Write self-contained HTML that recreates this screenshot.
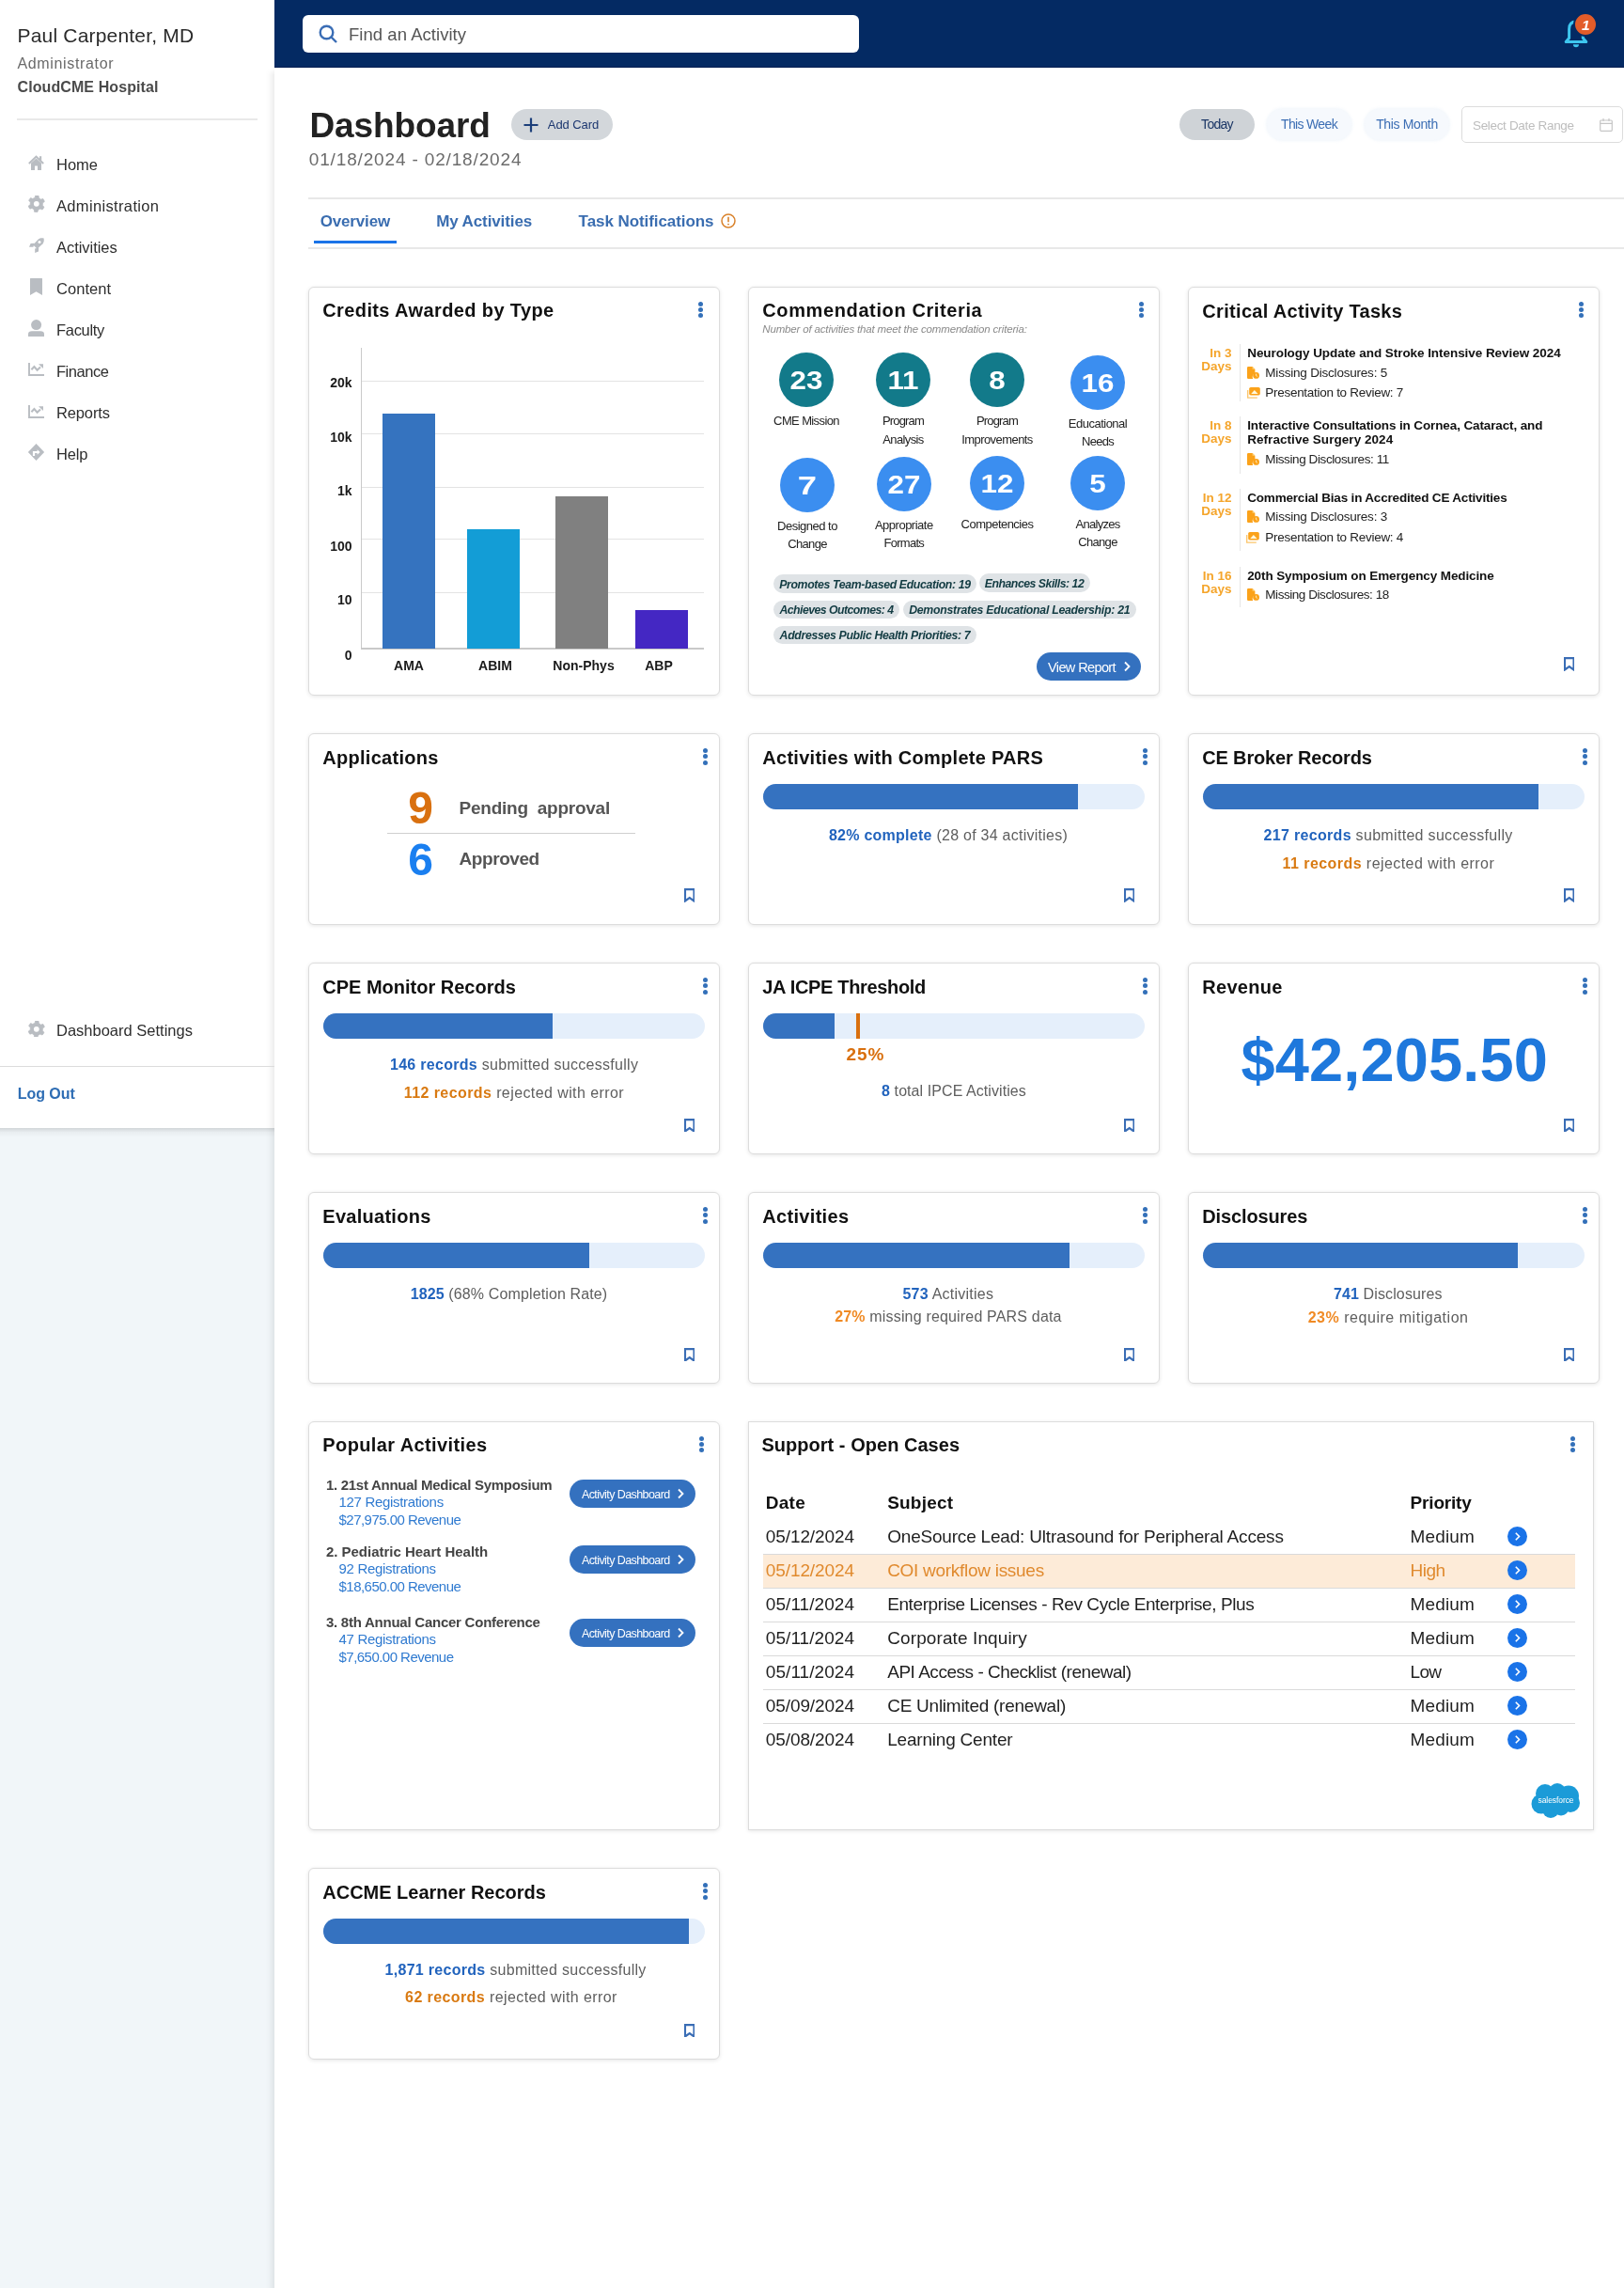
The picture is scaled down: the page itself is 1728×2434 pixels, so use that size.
<!DOCTYPE html><html><head><meta charset="utf-8"><style>
html,body{margin:0;padding:0;}
body{width:1728px;height:2434px;position:relative;overflow:hidden;background:#fff;font-family:'Liberation Sans', sans-serif;}
.t{position:absolute;line-height:1;white-space:nowrap;font-family:'Liberation Sans', sans-serif;}
svg{display:block}
</style></head><body><div style="position:absolute;left:0;top:0;width:1728px;height:2434px;will-change:transform;">
<div style="position:absolute;left:0px;top:0px;width:292px;height:2434px;background:#f1f6f9;"></div>
<div style="position:absolute;left:0px;top:0px;width:292px;height:1200px;background:#fff;"></div>
<div style="position:absolute;left:0px;top:1200px;width:292px;height:10px;background:linear-gradient(to bottom, rgba(0,0,0,0.13), rgba(0,0,0,0.035) 45%, rgba(0,0,0,0));"></div>
<div style="position:absolute;left:282px;top:72px;width:10px;height:2362px;background:linear-gradient(to right, rgba(0,0,0,0), rgba(0,0,0,0.012) 40%, rgba(0,0,0,0.07));-webkit-mask-image:linear-gradient(to bottom, transparent, #000 8px);"></div>
<div class="t" style="top:27.00px;font-size:21px;color:#2a2a2a;letter-spacing:0.184px;left:18.50px;">Paul Carpenter, MD</div>
<div class="t" style="top:60.00px;font-size:16px;color:#6a6a6a;letter-spacing:0.647px;left:18.50px;">Administrator</div>
<div class="t" style="top:85.00px;font-size:16px;color:#4a4a4a;font-weight:bold;letter-spacing:0.095px;left:18.50px;">CloudCME Hospital</div>
<div style="position:absolute;left:18px;top:126px;width:256px;height:2px;background:#e9e9e9;"></div>
<div class="t" style="top:167.00px;font-size:16.5px;color:#2e2e2e;letter-spacing:-0.018px;left:60.00px;">Home</div>
<div class="t" style="top:211.00px;font-size:16.5px;color:#2e2e2e;letter-spacing:0.344px;left:60.00px;">Administration</div>
<div class="t" style="top:255.00px;font-size:16.5px;color:#2e2e2e;letter-spacing:-0.044px;left:60.00px;">Activities</div>
<div class="t" style="top:299.00px;font-size:16.5px;color:#2e2e2e;letter-spacing:0.061px;left:60.00px;">Content</div>
<div class="t" style="top:343.00px;font-size:16.5px;color:#2e2e2e;letter-spacing:-0.302px;left:60.00px;">Faculty</div>
<div class="t" style="top:387.00px;font-size:16.5px;color:#2e2e2e;letter-spacing:-0.457px;left:60.00px;">Finance</div>
<div class="t" style="top:431.00px;font-size:16.5px;color:#2e2e2e;letter-spacing:-0.142px;left:60.00px;">Reports</div>
<div class="t" style="top:475.00px;font-size:16.5px;color:#2e2e2e;letter-spacing:-0.203px;left:60.00px;">Help</div>
<div style="position:absolute;left:292px;top:0px;width:1436px;height:72px;background:#042a63;"></div>
<div style="position:absolute;left:292px;top:71px;width:1436px;height:1px;background:#021d52;"></div>
<div style="position:absolute;left:322px;top:16px;width:592px;height:40px;background:#fff;border-radius:6px;"></div>
<svg style="position:absolute;left:339px;top:26px" width="21" height="20" viewBox="0 0 21 20"><circle cx="8.5" cy="8.5" r="6.8" fill="none" stroke="#3a6db5" stroke-width="2.4"/><line x1="13.5" y1="13.5" x2="19" y2="19" stroke="#3a6db5" stroke-width="2.4"/></svg>
<div class="t" style="top:28.00px;font-size:18.5px;color:#555;letter-spacing:0.039px;left:371.00px;">Find an Activity</div>
<div class="t" style="top:115.00px;font-size:37px;color:#222;font-weight:bold;letter-spacing:-0.091px;left:329.40px;">Dashboard</div>
<div style="position:absolute;left:544px;top:116px;width:108px;height:33px;background:#d3d7db;border-radius:17px;"></div>
<div class="t" style="top:126.00px;font-size:13px;color:#1c3770;letter-spacing:-0.075px;left:582.80px;">Add Card</div>
<div class="t" style="top:160.00px;font-size:19px;color:#6b6b6b;letter-spacing:0.845px;left:328.80px;">01/18/2024 - 02/18/2024</div>
<div style="position:absolute;left:1255px;top:116px;width:80px;height:33px;background:#cfd3d7;border-radius:17px;"></div>
<div class="t" style="top:125.00px;font-size:14px;color:#1c3766;letter-spacing:-0.720px;left:695.00px;width:1200px;text-align:center;">Today</div>
<div style="position:absolute;left:1348px;top:116px;width:90px;height:33px;background:#f6f9fd;border-radius:17px;box-shadow:0 0 3px 1px rgba(240,245,251,0.9);"></div>
<div class="t" style="top:125.00px;font-size:14px;color:#3c6eb4;letter-spacing:-0.655px;left:793.00px;width:1200px;text-align:center;">This Week</div>
<div style="position:absolute;left:1452px;top:116px;width:90px;height:33px;background:#f6f9fd;border-radius:17px;box-shadow:0 0 3px 1px rgba(240,245,251,0.9);"></div>
<div class="t" style="top:125.00px;font-size:14px;color:#3c6eb4;letter-spacing:-0.359px;left:897.00px;width:1200px;text-align:center;">This Month</div>
<div style="position:absolute;left:1555px;top:113px;width:172px;height:39px;box-sizing:border-box;border:1px solid #dcdcdc;border-radius:5px;background:#fff;"></div>
<div class="t" style="top:127.00px;font-size:13.5px;color:#bdbdbd;letter-spacing:-0.333px;left:1567.00px;">Select Date Range</div>
<div style="position:absolute;left:328px;top:210px;width:1400px;height:2px;background:#e8e8e8;"></div>
<div style="position:absolute;left:328px;top:263px;width:1400px;height:2px;background:#e8e8e8;"></div>
<div class="t" style="top:227.00px;font-size:17px;color:#3a6db0;font-weight:bold;letter-spacing:-0.164px;left:340.70px;">Overview</div>
<div style="position:absolute;left:334px;top:256px;width:88px;height:3px;background:#1a73e8;"></div>
<div class="t" style="top:227.00px;font-size:17px;color:#3a6db0;font-weight:bold;letter-spacing:-0.106px;left:464.20px;">My Activities</div>
<div class="t" style="top:227.00px;font-size:17px;color:#3a6db0;font-weight:bold;letter-spacing:-0.069px;left:615.60px;">Task Notifications</div>
<div style="position:absolute;left:328px;top:305px;width:438px;height:435px;box-sizing:border-box;border:1px solid #dcdcdc;border-radius:6px;background:#fff;box-shadow:0 1px 4px rgba(0,0,0,0.10);"></div>
<div class="t" style="top:320.00px;font-size:20px;color:#111;font-weight:bold;letter-spacing:0.382px;left:343.30px;">Credits Awarded by Type</div>
<div style="position:absolute;left:743.30px;top:320.50px;width:5px;height:5px;border-radius:50%;background:#3370b9"></div>
<div style="position:absolute;left:743.30px;top:326.70px;width:5px;height:5px;border-radius:50%;background:#3370b9"></div>
<div style="position:absolute;left:743.30px;top:332.90px;width:5px;height:5px;border-radius:50%;background:#3370b9"></div>
<div style="position:absolute;left:384px;top:370px;width:1px;height:320px;background:#c9c9c9;"></div>
<div style="position:absolute;left:385px;top:405px;width:364px;height:1px;background:#e3e3e3;"></div>
<div style="position:absolute;left:385px;top:461px;width:364px;height:1px;background:#e3e3e3;"></div>
<div style="position:absolute;left:385px;top:518px;width:364px;height:1px;background:#e3e3e3;"></div>
<div style="position:absolute;left:385px;top:573px;width:364px;height:1px;background:#e3e3e3;"></div>
<div style="position:absolute;left:385px;top:630px;width:364px;height:1px;background:#e3e3e3;"></div>
<div style="position:absolute;left:384px;top:689px;width:365px;height:1.5px;background:#c9c9c9;"></div>
<div class="t" style="top:400.00px;font-size:14px;color:#1a1a1a;font-weight:bold;left:-825.50px;width:1200px;text-align:right;">20k</div>
<div class="t" style="top:458.00px;font-size:14px;color:#1a1a1a;font-weight:bold;left:-825.50px;width:1200px;text-align:right;">10k</div>
<div class="t" style="top:515.00px;font-size:14px;color:#1a1a1a;font-weight:bold;left:-825.50px;width:1200px;text-align:right;">1k</div>
<div class="t" style="top:574.00px;font-size:14px;color:#1a1a1a;font-weight:bold;left:-825.50px;width:1200px;text-align:right;">100</div>
<div class="t" style="top:631.00px;font-size:14px;color:#1a1a1a;font-weight:bold;left:-825.50px;width:1200px;text-align:right;">10</div>
<div class="t" style="top:690.00px;font-size:14px;color:#1a1a1a;font-weight:bold;left:-825.50px;width:1200px;text-align:right;">0</div>
<div style="position:absolute;left:407px;top:440px;width:56px;height:250px;background:#3573bf;"></div>
<div style="position:absolute;left:497px;top:563px;width:56px;height:127px;background:#139dd6;"></div>
<div style="position:absolute;left:591px;top:528px;width:56px;height:162px;background:#808080;"></div>
<div style="position:absolute;left:676px;top:649px;width:56px;height:41px;background:#4427c3;"></div>
<div class="t" style="top:701.00px;font-size:14px;color:#1a1a1a;font-weight:bold;left:-165.00px;width:1200px;text-align:center;">AMA</div>
<div class="t" style="top:701.00px;font-size:14px;color:#1a1a1a;font-weight:bold;left:-73.00px;width:1200px;text-align:center;">ABIM</div>
<div class="t" style="top:701.00px;font-size:14px;color:#1a1a1a;font-weight:bold;left:21.00px;width:1200px;text-align:center;">Non-Phys</div>
<div class="t" style="top:701.00px;font-size:14px;color:#1a1a1a;font-weight:bold;left:101.00px;width:1200px;text-align:center;">ABP</div>
<div style="position:absolute;left:796px;top:305px;width:438px;height:435px;box-sizing:border-box;border:1px solid #dcdcdc;border-radius:6px;background:#fff;box-shadow:0 1px 4px rgba(0,0,0,0.10);"></div>
<div class="t" style="top:320.00px;font-size:20px;color:#111;font-weight:bold;letter-spacing:0.615px;left:811.30px;">Commendation Criteria</div>
<div style="position:absolute;left:1211.50px;top:320.50px;width:5px;height:5px;border-radius:50%;background:#3370b9"></div>
<div style="position:absolute;left:1211.50px;top:326.70px;width:5px;height:5px;border-radius:50%;background:#3370b9"></div>
<div style="position:absolute;left:1211.50px;top:332.90px;width:5px;height:5px;border-radius:50%;background:#3370b9"></div>
<div class="t" style="top:345.00px;font-size:11.5px;color:#8a8a8a;font-style:italic;letter-spacing:-0.165px;left:811.30px;">Number of activities that meet the commendation criteria:</div>
<div style="position:absolute;left:829.0px;top:374.7px;width:58px;height:58px;border-radius:50%;background:#127a8a"></div>
<div class="t" style="top:391.00px;font-size:28px;color:#fff;font-weight:bold;left:258.00px;width:1200px;text-align:center;transform:scaleX(1.12);">23</div>
<div class="t" style="top:441.00px;font-size:13px;color:#222;letter-spacing:-0.617px;left:258.00px;width:1200px;text-align:center;">CME Mission</div>
<div style="position:absolute;left:932.0px;top:374.7px;width:58px;height:58px;border-radius:50%;background:#127a8a"></div>
<div class="t" style="top:391.00px;font-size:28px;color:#fff;font-weight:bold;left:361.00px;width:1200px;text-align:center;transform:scaleX(1.12);">11</div>
<div class="t" style="top:441.00px;font-size:13px;color:#222;letter-spacing:-0.826px;left:361.00px;width:1200px;text-align:center;">Program</div>
<div class="t" style="top:461.00px;font-size:13px;color:#222;letter-spacing:-0.632px;left:361.00px;width:1200px;text-align:center;">Analysis</div>
<div style="position:absolute;left:1032.0px;top:374.7px;width:58px;height:58px;border-radius:50%;background:#127a8a"></div>
<div class="t" style="top:391.00px;font-size:28px;color:#fff;font-weight:bold;left:461.00px;width:1200px;text-align:center;transform:scaleX(1.12);">8</div>
<div class="t" style="top:441.00px;font-size:13px;color:#222;letter-spacing:-0.826px;left:461.00px;width:1200px;text-align:center;">Program</div>
<div class="t" style="top:461.00px;font-size:13px;color:#222;letter-spacing:-0.560px;left:461.00px;width:1200px;text-align:center;">Improvements</div>
<div style="position:absolute;left:1139.0px;top:378.0px;width:58px;height:58px;border-radius:50%;background:#3b8ef0"></div>
<div class="t" style="top:394.00px;font-size:28px;color:#fff;font-weight:bold;left:568.00px;width:1200px;text-align:center;transform:scaleX(1.12);">16</div>
<div class="t" style="top:444.00px;font-size:13px;color:#222;letter-spacing:-0.502px;left:568.00px;width:1200px;text-align:center;">Educational</div>
<div class="t" style="top:463.00px;font-size:13px;color:#222;letter-spacing:-0.742px;left:568.00px;width:1200px;text-align:center;">Needs</div>
<div style="position:absolute;left:830.0px;top:486.7px;width:58px;height:58px;border-radius:50%;background:#3b8ef0"></div>
<div class="t" style="top:503.00px;font-size:28px;color:#fff;font-weight:bold;left:259.00px;width:1200px;text-align:center;transform:scaleX(1.3);">7</div>
<div class="t" style="top:553.00px;font-size:13px;color:#222;letter-spacing:-0.506px;left:259.00px;width:1200px;text-align:center;">Designed to</div>
<div class="t" style="top:572.00px;font-size:13px;color:#222;letter-spacing:-0.633px;left:259.00px;width:1200px;text-align:center;">Change</div>
<div style="position:absolute;left:932.8px;top:485.8px;width:58px;height:58px;border-radius:50%;background:#3b8ef0"></div>
<div class="t" style="top:502.00px;font-size:28px;color:#fff;font-weight:bold;left:361.80px;width:1200px;text-align:center;transform:scaleX(1.12);">27</div>
<div class="t" style="top:552.00px;font-size:13px;color:#222;letter-spacing:-0.491px;left:361.80px;width:1200px;text-align:center;">Appropriate</div>
<div class="t" style="top:571.00px;font-size:13px;color:#222;letter-spacing:-0.741px;left:361.80px;width:1200px;text-align:center;">Formats</div>
<div style="position:absolute;left:1032.0px;top:484.7px;width:58px;height:58px;border-radius:50%;background:#3b8ef0"></div>
<div class="t" style="top:501.00px;font-size:28px;color:#fff;font-weight:bold;left:461.00px;width:1200px;text-align:center;transform:scaleX(1.12);">12</div>
<div class="t" style="top:551.00px;font-size:13px;color:#222;letter-spacing:-0.525px;left:461.00px;width:1200px;text-align:center;">Competencies</div>
<div style="position:absolute;left:1139.0px;top:484.7px;width:58px;height:58px;border-radius:50%;background:#3b8ef0"></div>
<div class="t" style="top:501.00px;font-size:28px;color:#fff;font-weight:bold;left:568.00px;width:1200px;text-align:center;transform:scaleX(1.12);">5</div>
<div class="t" style="top:551.00px;font-size:13px;color:#222;letter-spacing:-0.726px;left:568.00px;width:1200px;text-align:center;">Analyzes</div>
<div class="t" style="top:570.00px;font-size:13px;color:#222;letter-spacing:-0.693px;left:568.00px;width:1200px;text-align:center;">Change</div>
<div style="position:absolute;left:823px;top:611px;width:216px;height:19.5px;background:#dfe3e6;border-radius:10px;"></div>
<div class="t" style="top:616.00px;font-size:12.3px;color:#123b42;font-weight:bold;font-style:italic;letter-spacing:-0.361px;left:331.00px;width:1200px;text-align:center;">Promotes Team-based Education: 19</div>
<div style="position:absolute;left:1041.5px;top:610px;width:118px;height:19.5px;background:#dfe3e6;border-radius:10px;"></div>
<div class="t" style="top:615.00px;font-size:12.3px;color:#123b42;font-weight:bold;font-style:italic;letter-spacing:-0.493px;left:500.50px;width:1200px;text-align:center;">Enhances Skills: 12</div>
<div style="position:absolute;left:823px;top:638.5px;width:134px;height:19.5px;background:#dfe3e6;border-radius:10px;"></div>
<div class="t" style="top:643.00px;font-size:12.3px;color:#123b42;font-weight:bold;font-style:italic;letter-spacing:-0.538px;left:290.00px;width:1200px;text-align:center;">Achieves Outcomes: 4</div>
<div style="position:absolute;left:961px;top:638.5px;width:247.5px;height:19.5px;background:#dfe3e6;border-radius:10px;"></div>
<div class="t" style="top:643.00px;font-size:12.3px;color:#123b42;font-weight:bold;font-style:italic;letter-spacing:-0.260px;left:484.75px;width:1200px;text-align:center;">Demonstrates Educational Leadership: 21</div>
<div style="position:absolute;left:823px;top:665.5px;width:216px;height:19.5px;background:#dfe3e6;border-radius:10px;"></div>
<div class="t" style="top:670.00px;font-size:12.3px;color:#123b42;font-weight:bold;font-style:italic;letter-spacing:-0.338px;left:331.00px;width:1200px;text-align:center;">Addresses Public Health Priorities: 7</div>
<div style="position:absolute;left:1102.5px;top:694px;width:111.5px;height:30px;background:#3471bf;border-radius:15px;"></div>
<div class="t" style="top:703.00px;font-size:14.5px;color:#fff;letter-spacing:-0.614px;left:1115.00px;">View Report</div>
<svg style="position:absolute;left:1195px;top:703px" width="9" height="12" viewBox="0 0 9 12"><path d="M2 1.5 L6.5 6 L2 10.5" fill="none" stroke="#fff" stroke-width="1.8"/></svg>
<div style="position:absolute;left:1264px;top:305px;width:438px;height:435px;box-sizing:border-box;border:1px solid #dcdcdc;border-radius:6px;background:#fff;box-shadow:0 1px 4px rgba(0,0,0,0.10);"></div>
<div class="t" style="top:321.00px;font-size:20px;color:#111;font-weight:bold;letter-spacing:0.318px;left:1279.30px;">Critical Activity Tasks</div>
<div style="position:absolute;left:1679.50px;top:320.50px;width:5px;height:5px;border-radius:50%;background:#3370b9"></div>
<div style="position:absolute;left:1679.50px;top:326.70px;width:5px;height:5px;border-radius:50%;background:#3370b9"></div>
<div style="position:absolute;left:1679.50px;top:332.90px;width:5px;height:5px;border-radius:50%;background:#3370b9"></div>
<div class="t" style="top:369.00px;font-size:13.5px;color:#f5a52b;font-weight:bold;left:110.50px;width:1200px;text-align:right;">In 3</div>
<div class="t" style="top:383.00px;font-size:13.5px;color:#f5a52b;font-weight:bold;left:110.50px;width:1200px;text-align:right;">Days</div>
<div style="position:absolute;left:1319px;top:366px;width:1px;height:61px;background:#e6e6e6;"></div>
<div class="t" style="top:369.00px;font-size:13.5px;color:#111;font-weight:bold;letter-spacing:-0.055px;left:1327.20px;">Neurology Update and Stroke Intensive Review 2024</div>
<svg style="position:absolute;left:1327.0px;top:389.9px" width="13.5" height="13.5" viewBox="0 0 13.5 13.5"><path d="M0 1.2 Q0 0 1.2 0 H5.6 L8.4 2.8 V7 A4.2 4.2 0 0 0 6.2 13 H1.2 Q0 13 0 11.8 Z" fill="#fba21a"/><path d="M5.6 0 V2.8 H8.4 Z" fill="#fdd27a"/><circle cx="9.6" cy="9.4" r="3.4" fill="#fba21a"/><path d="M9.6 7.6 V9.6 L10.8 10.4" stroke="#fff3d0" stroke-width="0.9" fill="none"/></svg>
<div class="t" style="top:390.00px;font-size:13.5px;color:#222;letter-spacing:-0.206px;left:1346.30px;">Missing Disclosures: 5</div>
<svg style="position:absolute;left:1327.0px;top:412.1px" width="14" height="12" viewBox="0 0 14 12"><path d="M0.7 3 V11.1 H10.8" fill="none" stroke="#fcc56a" stroke-width="1.3"/><rect x="2.2" y="0" width="11.6" height="8.4" rx="1.6" fill="#fba21a"/><path d="M4.2 7 L7.8 3 L11.6 7 Z" fill="#fff8dc"/></svg>
<div class="t" style="top:411.00px;font-size:13.5px;color:#222;letter-spacing:-0.285px;left:1346.30px;">Presentation to Review: 7</div>
<div class="t" style="top:446.00px;font-size:13.5px;color:#f5a52b;font-weight:bold;left:110.50px;width:1200px;text-align:right;">In 8</div>
<div class="t" style="top:460.00px;font-size:13.5px;color:#f5a52b;font-weight:bold;left:110.50px;width:1200px;text-align:right;">Days</div>
<div style="position:absolute;left:1319px;top:443px;width:1px;height:61px;background:#e6e6e6;"></div>
<div class="t" style="top:446.00px;font-size:13.5px;color:#111;font-weight:bold;letter-spacing:-0.124px;left:1327.20px;">Interactive Consultations in Cornea, Cataract, and</div>
<div class="t" style="top:461.00px;font-size:13.5px;color:#111;font-weight:bold;letter-spacing:0.053px;left:1327.20px;">Refractive Surgery 2024</div>
<svg style="position:absolute;left:1327.0px;top:481.7px" width="13.5" height="13.5" viewBox="0 0 13.5 13.5"><path d="M0 1.2 Q0 0 1.2 0 H5.6 L8.4 2.8 V7 A4.2 4.2 0 0 0 6.2 13 H1.2 Q0 13 0 11.8 Z" fill="#fba21a"/><path d="M5.6 0 V2.8 H8.4 Z" fill="#fdd27a"/><circle cx="9.6" cy="9.4" r="3.4" fill="#fba21a"/><path d="M9.6 7.6 V9.6 L10.8 10.4" stroke="#fff3d0" stroke-width="0.9" fill="none"/></svg>
<div class="t" style="top:482.00px;font-size:13.5px;color:#222;letter-spacing:-0.400px;left:1346.30px;">Missing Disclosures: 11</div>
<div class="t" style="top:523.00px;font-size:13.5px;color:#f5a52b;font-weight:bold;left:110.50px;width:1200px;text-align:right;">In 12</div>
<div class="t" style="top:537.00px;font-size:13.5px;color:#f5a52b;font-weight:bold;left:110.50px;width:1200px;text-align:right;">Days</div>
<div style="position:absolute;left:1319px;top:520px;width:1px;height:66px;background:#e6e6e6;"></div>
<div class="t" style="top:523.00px;font-size:13.5px;color:#111;font-weight:bold;letter-spacing:-0.181px;left:1327.20px;">Commercial Bias in Accredited CE Activities</div>
<svg style="position:absolute;left:1327.0px;top:542.8px" width="13.5" height="13.5" viewBox="0 0 13.5 13.5"><path d="M0 1.2 Q0 0 1.2 0 H5.6 L8.4 2.8 V7 A4.2 4.2 0 0 0 6.2 13 H1.2 Q0 13 0 11.8 Z" fill="#fba21a"/><path d="M5.6 0 V2.8 H8.4 Z" fill="#fdd27a"/><circle cx="9.6" cy="9.4" r="3.4" fill="#fba21a"/><path d="M9.6 7.6 V9.6 L10.8 10.4" stroke="#fff3d0" stroke-width="0.9" fill="none"/></svg>
<div class="t" style="top:543.00px;font-size:13.5px;color:#222;letter-spacing:-0.206px;left:1346.30px;">Missing Disclosures: 3</div>
<svg style="position:absolute;left:1325.5px;top:565.8px" width="14" height="12" viewBox="0 0 14 12"><path d="M0.7 3 V11.1 H10.8" fill="none" stroke="#fcc56a" stroke-width="1.3"/><rect x="2.2" y="0" width="11.6" height="8.4" rx="1.6" fill="#fba21a"/><path d="M4.2 7 L7.8 3 L11.6 7 Z" fill="#fff8dc"/></svg>
<div class="t" style="top:565.00px;font-size:13.5px;color:#222;letter-spacing:-0.285px;left:1346.30px;">Presentation to Review: 4</div>
<div class="t" style="top:606.00px;font-size:13.5px;color:#f5a52b;font-weight:bold;left:110.50px;width:1200px;text-align:right;">In 16</div>
<div class="t" style="top:620.00px;font-size:13.5px;color:#f5a52b;font-weight:bold;left:110.50px;width:1200px;text-align:right;">Days</div>
<div style="position:absolute;left:1319px;top:603px;width:1px;height:43px;background:#e6e6e6;"></div>
<div class="t" style="top:606.00px;font-size:13.5px;color:#111;font-weight:bold;letter-spacing:-0.107px;left:1327.20px;">20th Symposium on Emergency Medicine</div>
<svg style="position:absolute;left:1327.0px;top:625.9px" width="13.5" height="13.5" viewBox="0 0 13.5 13.5"><path d="M0 1.2 Q0 0 1.2 0 H5.6 L8.4 2.8 V7 A4.2 4.2 0 0 0 6.2 13 H1.2 Q0 13 0 11.8 Z" fill="#fba21a"/><path d="M5.6 0 V2.8 H8.4 Z" fill="#fdd27a"/><circle cx="9.6" cy="9.4" r="3.4" fill="#fba21a"/><path d="M9.6 7.6 V9.6 L10.8 10.4" stroke="#fff3d0" stroke-width="0.9" fill="none"/></svg>
<div class="t" style="top:626.00px;font-size:13.5px;color:#222;letter-spacing:-0.446px;left:1346.30px;">Missing Disclosures: 18</div>
<svg style="position:absolute;left:1663.50px;top:699.30px" width="11.5" height="14.6" viewBox="0 0 12 15"><path d="M1 1 H11 V14 L6 10.5 L1 14 Z" fill="none" stroke="#3a6db5" stroke-width="2.3" stroke-linejoin="miter"/></svg>
<div style="position:absolute;left:328px;top:780px;width:438px;height:204px;box-sizing:border-box;border:1px solid #dcdcdc;border-radius:6px;background:#fff;box-shadow:0 1px 4px rgba(0,0,0,0.10);"></div>
<div class="t" style="top:796.00px;font-size:20px;color:#111;font-weight:bold;letter-spacing:0.273px;left:343.30px;">Applications</div>
<div style="position:absolute;left:747.50px;top:796.10px;width:5px;height:5px;border-radius:50%;background:#3370b9"></div>
<div style="position:absolute;left:747.50px;top:802.30px;width:5px;height:5px;border-radius:50%;background:#3370b9"></div>
<div style="position:absolute;left:747.50px;top:808.50px;width:5px;height:5px;border-radius:50%;background:#3370b9"></div>
<div class="t" style="top:836.00px;font-size:48px;color:#d9700f;font-weight:bold;letter-spacing:-1.440px;left:434.20px;">9</div>
<div class="t" style="top:850.00px;font-size:19px;color:#555;font-weight:bold;letter-spacing:-0.258px;left:488.60px;white-space:pre;">Pending  approval</div>
<div style="position:absolute;left:412px;top:886px;width:264px;height:1px;background:#cfcfcf;"></div>
<div class="t" style="top:891.00px;font-size:48px;color:#1a7ff0;font-weight:bold;letter-spacing:-1.440px;left:434.20px;">6</div>
<div class="t" style="top:904.00px;font-size:19px;color:#555;font-weight:bold;letter-spacing:-0.448px;left:488.60px;">Approved</div>
<svg style="position:absolute;left:727.60px;top:945.40px" width="11.5" height="14.6" viewBox="0 0 12 15"><path d="M1 1 H11 V14 L6 10.5 L1 14 Z" fill="none" stroke="#3a6db5" stroke-width="2.3" stroke-linejoin="miter"/></svg>
<div style="position:absolute;left:796px;top:780px;width:438px;height:204px;box-sizing:border-box;border:1px solid #dcdcdc;border-radius:6px;background:#fff;box-shadow:0 1px 4px rgba(0,0,0,0.10);"></div>
<div class="t" style="top:796.00px;font-size:20px;color:#111;font-weight:bold;letter-spacing:0.279px;left:811.30px;">Activities with Complete PARS</div>
<div style="position:absolute;left:1215.50px;top:796.10px;width:5px;height:5px;border-radius:50%;background:#3370b9"></div>
<div style="position:absolute;left:1215.50px;top:802.30px;width:5px;height:5px;border-radius:50%;background:#3370b9"></div>
<div style="position:absolute;left:1215.50px;top:808.50px;width:5px;height:5px;border-radius:50%;background:#3370b9"></div>
<div style="position:absolute;left:812px;top:834px;width:406px;height:27px;border-radius:13.5px;background:#e5effb;overflow:hidden;"></div>
<div style="position:absolute;left:812px;top:834px;width:334.6px;height:27px;border-radius:13.5px 0 0 13.5px;background:#3572c0"></div>
<div class="t" style="top:881.00px;font-size:16px;color:#5e5e5e;letter-spacing:0.258px;left:409.00px;width:1200px;text-align:center;"><span style="font-weight:bold;color:#2163bd">82% complete</span><span style=""> (28 of 34 activities)</span></div>
<svg style="position:absolute;left:1195.80px;top:945.40px" width="11.5" height="14.6" viewBox="0 0 12 15"><path d="M1 1 H11 V14 L6 10.5 L1 14 Z" fill="none" stroke="#3a6db5" stroke-width="2.3" stroke-linejoin="miter"/></svg>
<div style="position:absolute;left:1264px;top:780px;width:438px;height:204px;box-sizing:border-box;border:1px solid #dcdcdc;border-radius:6px;background:#fff;box-shadow:0 1px 4px rgba(0,0,0,0.10);"></div>
<div class="t" style="top:796.00px;font-size:20px;color:#111;font-weight:bold;letter-spacing:-0.175px;left:1279.30px;">CE Broker Records</div>
<div style="position:absolute;left:1683.50px;top:796.10px;width:5px;height:5px;border-radius:50%;background:#3370b9"></div>
<div style="position:absolute;left:1683.50px;top:802.30px;width:5px;height:5px;border-radius:50%;background:#3370b9"></div>
<div style="position:absolute;left:1683.50px;top:808.50px;width:5px;height:5px;border-radius:50%;background:#3370b9"></div>
<div style="position:absolute;left:1280px;top:834px;width:406px;height:27px;border-radius:13.5px;background:#e5effb;overflow:hidden;"></div>
<div style="position:absolute;left:1280px;top:834px;width:357.2px;height:27px;border-radius:13.5px 0 0 13.5px;background:#3572c0"></div>
<div class="t" style="top:881.00px;font-size:16px;color:#5e5e5e;letter-spacing:0.316px;left:877.10px;width:1200px;text-align:center;"><span style="font-weight:bold;color:#2163bd">217 records</span><span style=""> submitted successfully</span></div>
<div class="t" style="top:911.00px;font-size:16px;color:#5e5e5e;letter-spacing:0.437px;left:877.40px;width:1200px;text-align:center;"><span style="font-weight:bold;color:#d97a12">11 records</span><span style=""> rejected with error</span></div>
<svg style="position:absolute;left:1663.50px;top:945.40px" width="11.5" height="14.6" viewBox="0 0 12 15"><path d="M1 1 H11 V14 L6 10.5 L1 14 Z" fill="none" stroke="#3a6db5" stroke-width="2.3" stroke-linejoin="miter"/></svg>
<div style="position:absolute;left:328px;top:1024px;width:438px;height:204px;box-sizing:border-box;border:1px solid #dcdcdc;border-radius:6px;background:#fff;box-shadow:0 1px 4px rgba(0,0,0,0.10);"></div>
<div class="t" style="top:1040.00px;font-size:20px;color:#111;font-weight:bold;letter-spacing:-0.006px;left:343.30px;">CPE Monitor Records</div>
<div style="position:absolute;left:747.50px;top:1040.10px;width:5px;height:5px;border-radius:50%;background:#3370b9"></div>
<div style="position:absolute;left:747.50px;top:1046.30px;width:5px;height:5px;border-radius:50%;background:#3370b9"></div>
<div style="position:absolute;left:747.50px;top:1052.50px;width:5px;height:5px;border-radius:50%;background:#3370b9"></div>
<div style="position:absolute;left:344px;top:1078px;width:406px;height:27px;border-radius:13.5px;background:#e5effb;overflow:hidden;"></div>
<div style="position:absolute;left:344px;top:1078px;width:243.7px;height:27px;border-radius:13.5px 0 0 13.5px;background:#3572c0"></div>
<div class="t" style="top:1125.00px;font-size:16px;color:#5e5e5e;letter-spacing:0.291px;left:-52.90px;width:1200px;text-align:center;"><span style="font-weight:bold;color:#2163bd">146 records</span><span style=""> submitted successfully</span></div>
<div class="t" style="top:1155.00px;font-size:16px;color:#5e5e5e;letter-spacing:0.410px;left:-53.10px;width:1200px;text-align:center;"><span style="font-weight:bold;color:#d97a12">112 records</span><span style=""> rejected with error</span></div>
<svg style="position:absolute;left:727.60px;top:1189.60px" width="11.5" height="14.6" viewBox="0 0 12 15"><path d="M1 1 H11 V14 L6 10.5 L1 14 Z" fill="none" stroke="#3a6db5" stroke-width="2.3" stroke-linejoin="miter"/></svg>
<div style="position:absolute;left:796px;top:1024px;width:438px;height:204px;box-sizing:border-box;border:1px solid #dcdcdc;border-radius:6px;background:#fff;box-shadow:0 1px 4px rgba(0,0,0,0.10);"></div>
<div class="t" style="top:1040.00px;font-size:20px;color:#111;font-weight:bold;letter-spacing:-0.331px;left:811.30px;">JA ICPE Threshold</div>
<div style="position:absolute;left:1215.50px;top:1040.10px;width:5px;height:5px;border-radius:50%;background:#3370b9"></div>
<div style="position:absolute;left:1215.50px;top:1046.30px;width:5px;height:5px;border-radius:50%;background:#3370b9"></div>
<div style="position:absolute;left:1215.50px;top:1052.50px;width:5px;height:5px;border-radius:50%;background:#3370b9"></div>
<div style="position:absolute;left:812px;top:1078px;width:406px;height:27px;border-radius:13.5px;background:#e5effb;overflow:hidden;"></div>
<div style="position:absolute;left:812px;top:1078px;width:76.0px;height:27px;border-radius:13.5px 0 0 13.5px;background:#3572c0"></div>
<div style="position:absolute;left:910.6px;top:1078px;width:4.6px;height:27px;background:#d9700f;"></div>
<div class="t" style="top:1112.00px;font-size:19px;color:#d9700f;font-weight:bold;letter-spacing:1.000px;left:900.40px;">25%</div>
<div class="t" style="top:1153.00px;font-size:16px;color:#5e5e5e;letter-spacing:0.074px;left:415.00px;width:1200px;text-align:center;"><span style="font-weight:bold;color:#2163bd">8</span><span style=""> total IPCE Activities</span></div>
<svg style="position:absolute;left:1195.80px;top:1189.60px" width="11.5" height="14.6" viewBox="0 0 12 15"><path d="M1 1 H11 V14 L6 10.5 L1 14 Z" fill="none" stroke="#3a6db5" stroke-width="2.3" stroke-linejoin="miter"/></svg>
<div style="position:absolute;left:1264px;top:1024px;width:438px;height:204px;box-sizing:border-box;border:1px solid #dcdcdc;border-radius:6px;background:#fff;box-shadow:0 1px 4px rgba(0,0,0,0.10);"></div>
<div class="t" style="top:1040.00px;font-size:20px;color:#111;font-weight:bold;letter-spacing:0.267px;left:1279.30px;">Revenue</div>
<div style="position:absolute;left:1683.50px;top:1040.10px;width:5px;height:5px;border-radius:50%;background:#3370b9"></div>
<div style="position:absolute;left:1683.50px;top:1046.30px;width:5px;height:5px;border-radius:50%;background:#3370b9"></div>
<div style="position:absolute;left:1683.50px;top:1052.50px;width:5px;height:5px;border-radius:50%;background:#3370b9"></div>
<div class="t" style="top:1095.00px;font-size:65px;color:#1e78dc;font-weight:bold;letter-spacing:0.108px;left:1320.50px;">$42,205.50</div>
<svg style="position:absolute;left:1663.50px;top:1189.60px" width="11.5" height="14.6" viewBox="0 0 12 15"><path d="M1 1 H11 V14 L6 10.5 L1 14 Z" fill="none" stroke="#3a6db5" stroke-width="2.3" stroke-linejoin="miter"/></svg>
<div style="position:absolute;left:328px;top:1268px;width:438px;height:204px;box-sizing:border-box;border:1px solid #dcdcdc;border-radius:6px;background:#fff;box-shadow:0 1px 4px rgba(0,0,0,0.10);"></div>
<div class="t" style="top:1284.00px;font-size:20px;color:#111;font-weight:bold;letter-spacing:0.270px;left:343.30px;">Evaluations</div>
<div style="position:absolute;left:747.50px;top:1284.10px;width:5px;height:5px;border-radius:50%;background:#3370b9"></div>
<div style="position:absolute;left:747.50px;top:1290.30px;width:5px;height:5px;border-radius:50%;background:#3370b9"></div>
<div style="position:absolute;left:747.50px;top:1296.50px;width:5px;height:5px;border-radius:50%;background:#3370b9"></div>
<div style="position:absolute;left:344px;top:1322px;width:406px;height:27px;border-radius:13.5px;background:#e5effb;overflow:hidden;"></div>
<div style="position:absolute;left:344px;top:1322px;width:282.8px;height:27px;border-radius:13.5px 0 0 13.5px;background:#3572c0"></div>
<div class="t" style="top:1369.00px;font-size:16px;color:#5e5e5e;letter-spacing:0.127px;left:-58.50px;width:1200px;text-align:center;"><span style="font-weight:bold;color:#2163bd">1825</span><span style=""> (68% Completion Rate)</span></div>
<svg style="position:absolute;left:727.60px;top:1433.60px" width="11.5" height="14.6" viewBox="0 0 12 15"><path d="M1 1 H11 V14 L6 10.5 L1 14 Z" fill="none" stroke="#3a6db5" stroke-width="2.3" stroke-linejoin="miter"/></svg>
<div style="position:absolute;left:796px;top:1268px;width:438px;height:204px;box-sizing:border-box;border:1px solid #dcdcdc;border-radius:6px;background:#fff;box-shadow:0 1px 4px rgba(0,0,0,0.10);"></div>
<div class="t" style="top:1284.00px;font-size:20px;color:#111;font-weight:bold;letter-spacing:0.311px;left:811.30px;">Activities</div>
<div style="position:absolute;left:1215.50px;top:1284.10px;width:5px;height:5px;border-radius:50%;background:#3370b9"></div>
<div style="position:absolute;left:1215.50px;top:1290.30px;width:5px;height:5px;border-radius:50%;background:#3370b9"></div>
<div style="position:absolute;left:1215.50px;top:1296.50px;width:5px;height:5px;border-radius:50%;background:#3370b9"></div>
<div style="position:absolute;left:812px;top:1322px;width:406px;height:27px;border-radius:13.5px;background:#e5effb;overflow:hidden;"></div>
<div style="position:absolute;left:812px;top:1322px;width:326.0px;height:27px;border-radius:13.5px 0 0 13.5px;background:#3572c0"></div>
<div class="t" style="top:1369.00px;font-size:16px;color:#5e5e5e;letter-spacing:0.242px;left:408.80px;width:1200px;text-align:center;"><span style="font-weight:bold;color:#2163bd">573</span><span style=""> Activities</span></div>
<div class="t" style="top:1393.00px;font-size:16px;color:#5e5e5e;letter-spacing:0.175px;left:408.90px;width:1200px;text-align:center;"><span style="font-weight:bold;color:#f08a24">27%</span><span style=""> missing required PARS data</span></div>
<svg style="position:absolute;left:1195.80px;top:1433.60px" width="11.5" height="14.6" viewBox="0 0 12 15"><path d="M1 1 H11 V14 L6 10.5 L1 14 Z" fill="none" stroke="#3a6db5" stroke-width="2.3" stroke-linejoin="miter"/></svg>
<div style="position:absolute;left:1264px;top:1268px;width:438px;height:204px;box-sizing:border-box;border:1px solid #dcdcdc;border-radius:6px;background:#fff;box-shadow:0 1px 4px rgba(0,0,0,0.10);"></div>
<div class="t" style="top:1284.00px;font-size:20px;color:#111;font-weight:bold;letter-spacing:-0.130px;left:1279.30px;">Disclosures</div>
<div style="position:absolute;left:1683.50px;top:1284.10px;width:5px;height:5px;border-radius:50%;background:#3370b9"></div>
<div style="position:absolute;left:1683.50px;top:1290.30px;width:5px;height:5px;border-radius:50%;background:#3370b9"></div>
<div style="position:absolute;left:1683.50px;top:1296.50px;width:5px;height:5px;border-radius:50%;background:#3370b9"></div>
<div style="position:absolute;left:1280px;top:1322px;width:406px;height:27px;border-radius:13.5px;background:#e5effb;overflow:hidden;"></div>
<div style="position:absolute;left:1280px;top:1322px;width:335.0px;height:27px;border-radius:13.5px 0 0 13.5px;background:#3572c0"></div>
<div class="t" style="top:1369.00px;font-size:16px;color:#5e5e5e;letter-spacing:0.126px;left:876.80px;width:1200px;text-align:center;"><span style="font-weight:bold;color:#2163bd">741</span><span style=""> Disclosures</span></div>
<div class="t" style="top:1394.00px;font-size:16px;color:#5e5e5e;letter-spacing:0.533px;left:877.10px;width:1200px;text-align:center;"><span style="font-weight:bold;color:#f08a24">23%</span><span style=""> require mitigation</span></div>
<svg style="position:absolute;left:1663.50px;top:1433.60px" width="11.5" height="14.6" viewBox="0 0 12 15"><path d="M1 1 H11 V14 L6 10.5 L1 14 Z" fill="none" stroke="#3a6db5" stroke-width="2.3" stroke-linejoin="miter"/></svg>
<div style="position:absolute;left:328px;top:1512px;width:438px;height:435px;box-sizing:border-box;border:1px solid #dcdcdc;border-radius:6px;background:#fff;box-shadow:0 1px 4px rgba(0,0,0,0.10);"></div>
<div class="t" style="top:1527.00px;font-size:20px;color:#111;font-weight:bold;letter-spacing:0.388px;left:343.30px;">Popular Activities</div>
<div style="position:absolute;left:743.50px;top:1527.70px;width:5px;height:5px;border-radius:50%;background:#3370b9"></div>
<div style="position:absolute;left:743.50px;top:1533.90px;width:5px;height:5px;border-radius:50%;background:#3370b9"></div>
<div style="position:absolute;left:743.50px;top:1540.10px;width:5px;height:5px;border-radius:50%;background:#3370b9"></div>
<div class="t" style="top:1572.00px;font-size:15px;color:#444;font-weight:bold;letter-spacing:-0.281px;left:346.90px;">1. 21st Annual Medical Symposium</div>
<div class="t" style="top:1590.00px;font-size:15px;color:#2f7ad0;letter-spacing:-0.319px;left:360.50px;">127 Registrations</div>
<div class="t" style="top:1609.00px;font-size:15px;color:#2f7ad0;letter-spacing:-0.528px;left:360.50px;">$27,975.00 Revenue</div>
<div style="position:absolute;left:605.6px;top:1573.7px;width:134.5px;height:30.5px;background:#3471bf;border-radius:15.25px;"></div>
<div class="t" style="top:1584.00px;font-size:12.5px;color:#fff;letter-spacing:-0.582px;left:618.90px;">Activity Dashboard</div>
<svg style="position:absolute;left:720px;top:1582.9px" width="9" height="12" viewBox="0 0 9 12"><path d="M2 1.5 L6.5 6 L2 10.5" fill="none" stroke="#fff" stroke-width="1.8"/></svg>
<div class="t" style="top:1643.00px;font-size:15px;color:#444;font-weight:bold;letter-spacing:-0.011px;left:346.90px;">2. Pediatric Heart Health</div>
<div class="t" style="top:1661.00px;font-size:15px;color:#2f7ad0;letter-spacing:-0.318px;left:360.50px;">92 Registrations</div>
<div class="t" style="top:1680.00px;font-size:15px;color:#2f7ad0;letter-spacing:-0.528px;left:360.50px;">$18,650.00 Revenue</div>
<div style="position:absolute;left:605.6px;top:1643.9px;width:134.5px;height:30.5px;background:#3471bf;border-radius:15.25px;"></div>
<div class="t" style="top:1654.00px;font-size:12.5px;color:#fff;letter-spacing:-0.582px;left:618.90px;">Activity Dashboard</div>
<svg style="position:absolute;left:720px;top:1653.1px" width="9" height="12" viewBox="0 0 9 12"><path d="M2 1.5 L6.5 6 L2 10.5" fill="none" stroke="#fff" stroke-width="1.8"/></svg>
<div class="t" style="top:1718.00px;font-size:15px;color:#444;font-weight:bold;letter-spacing:-0.242px;left:346.90px;">3. 8th Annual Cancer Conference</div>
<div class="t" style="top:1736.00px;font-size:15px;color:#2f7ad0;letter-spacing:-0.318px;left:360.50px;">47 Registrations</div>
<div class="t" style="top:1755.00px;font-size:15px;color:#2f7ad0;letter-spacing:-0.528px;left:360.50px;">$7,650.00 Revenue</div>
<div style="position:absolute;left:605.6px;top:1721.8px;width:134.5px;height:30.5px;background:#3471bf;border-radius:15.25px;"></div>
<div class="t" style="top:1732.00px;font-size:12.5px;color:#fff;letter-spacing:-0.582px;left:618.90px;">Activity Dashboard</div>
<svg style="position:absolute;left:720px;top:1731.0px" width="9" height="12" viewBox="0 0 9 12"><path d="M2 1.5 L6.5 6 L2 10.5" fill="none" stroke="#fff" stroke-width="1.8"/></svg>
<div style="position:absolute;left:796px;top:1512px;width:900px;height:435px;box-sizing:border-box;border:1px solid #dcdcdc;background:#fff;box-shadow:0 1px 4px rgba(0,0,0,0.10);"></div>
<div class="t" style="top:1527.00px;font-size:20px;color:#111;font-weight:bold;letter-spacing:0.032px;left:810.40px;">Support - Open Cases</div>
<div style="position:absolute;left:1670.50px;top:1527.70px;width:5px;height:5px;border-radius:50%;background:#3370b9"></div>
<div style="position:absolute;left:1670.50px;top:1533.90px;width:5px;height:5px;border-radius:50%;background:#3370b9"></div>
<div style="position:absolute;left:1670.50px;top:1540.10px;width:5px;height:5px;border-radius:50%;background:#3370b9"></div>
<div class="t" style="top:1589.00px;font-size:19px;color:#111;font-weight:bold;letter-spacing:0.257px;left:814.80px;">Date</div>
<div class="t" style="top:1589.00px;font-size:19px;color:#111;font-weight:bold;letter-spacing:0.202px;left:944.20px;">Subject</div>
<div class="t" style="top:1589.00px;font-size:19px;color:#111;font-weight:bold;letter-spacing:-0.186px;left:1500.60px;">Priority</div>
<div style="position:absolute;left:812px;top:1652.5px;width:864px;height:36.3px;background:#fdebd8;"></div>
<div class="t" style="top:1625.00px;font-size:19px;color:#1f1f1f;letter-spacing:-0.099px;left:814.80px;">05/12/2024</div>
<div class="t" style="top:1625.00px;font-size:19px;color:#1f1f1f;letter-spacing:-0.196px;left:944.20px;">OneSource Lead: Ultrasound for Peripheral Access</div>
<div class="t" style="top:1625.00px;font-size:19px;color:#1f1f1f;letter-spacing:0.131px;left:1500.60px;">Medium</div>
<svg style="position:absolute;left:1603.5px;top:1624.2px" width="21" height="21" viewBox="0 0 21 21"><circle cx="10.5" cy="10.5" r="10.5" fill="#1a73e8"/><path d="M8.8 6.8 L12.5 10.5 L8.8 14.2" fill="none" stroke="#fff" stroke-width="1.6"/></svg>
<div style="position:absolute;left:812px;top:1652.5px;width:864px;height:1px;background:#dadada;"></div>
<div class="t" style="top:1661.00px;font-size:19px;color:#e08a2e;letter-spacing:-0.099px;left:814.80px;">05/12/2024</div>
<div class="t" style="top:1661.00px;font-size:19px;color:#e08a2e;letter-spacing:-0.286px;left:944.20px;">COI workflow issues</div>
<div class="t" style="top:1661.00px;font-size:19px;color:#e08a2e;letter-spacing:-0.515px;left:1500.60px;">High</div>
<svg style="position:absolute;left:1603.5px;top:1660.2px" width="21" height="21" viewBox="0 0 21 21"><circle cx="10.5" cy="10.5" r="10.5" fill="#1a73e8"/><path d="M8.8 6.8 L12.5 10.5 L8.8 14.2" fill="none" stroke="#fff" stroke-width="1.6"/></svg>
<div style="position:absolute;left:812px;top:1688.5px;width:864px;height:1px;background:#dadada;"></div>
<div class="t" style="top:1697.00px;font-size:19px;color:#1f1f1f;letter-spacing:0.059px;left:814.80px;">05/11/2024</div>
<div class="t" style="top:1697.00px;font-size:19px;color:#1f1f1f;letter-spacing:-0.409px;left:944.20px;">Enterprise Licenses - Rev Cycle Enterprise, Plus</div>
<div class="t" style="top:1697.00px;font-size:19px;color:#1f1f1f;letter-spacing:0.131px;left:1500.60px;">Medium</div>
<svg style="position:absolute;left:1603.5px;top:1696.2px" width="21" height="21" viewBox="0 0 21 21"><circle cx="10.5" cy="10.5" r="10.5" fill="#1a73e8"/><path d="M8.8 6.8 L12.5 10.5 L8.8 14.2" fill="none" stroke="#fff" stroke-width="1.6"/></svg>
<div style="position:absolute;left:812px;top:1724.5px;width:864px;height:1px;background:#dadada;"></div>
<div class="t" style="top:1733.00px;font-size:19px;color:#1f1f1f;letter-spacing:0.059px;left:814.80px;">05/11/2024</div>
<div class="t" style="top:1733.00px;font-size:19px;color:#1f1f1f;letter-spacing:0.108px;left:944.20px;">Corporate Inquiry</div>
<div class="t" style="top:1733.00px;font-size:19px;color:#1f1f1f;letter-spacing:0.131px;left:1500.60px;">Medium</div>
<svg style="position:absolute;left:1603.5px;top:1732.2px" width="21" height="21" viewBox="0 0 21 21"><circle cx="10.5" cy="10.5" r="10.5" fill="#1a73e8"/><path d="M8.8 6.8 L12.5 10.5 L8.8 14.2" fill="none" stroke="#fff" stroke-width="1.6"/></svg>
<div style="position:absolute;left:812px;top:1760.5px;width:864px;height:1px;background:#dadada;"></div>
<div class="t" style="top:1769.00px;font-size:19px;color:#1f1f1f;letter-spacing:0.059px;left:814.80px;">05/11/2024</div>
<div class="t" style="top:1769.00px;font-size:19px;color:#1f1f1f;letter-spacing:-0.469px;left:944.20px;">API Access - Checklist (renewal)</div>
<div class="t" style="top:1769.00px;font-size:19px;color:#1f1f1f;letter-spacing:-0.683px;left:1500.60px;">Low</div>
<svg style="position:absolute;left:1603.5px;top:1768.2px" width="21" height="21" viewBox="0 0 21 21"><circle cx="10.5" cy="10.5" r="10.5" fill="#1a73e8"/><path d="M8.8 6.8 L12.5 10.5 L8.8 14.2" fill="none" stroke="#fff" stroke-width="1.6"/></svg>
<div style="position:absolute;left:812px;top:1796.5px;width:864px;height:1px;background:#dadada;"></div>
<div class="t" style="top:1805.00px;font-size:19px;color:#1f1f1f;letter-spacing:-0.099px;left:814.80px;">05/09/2024</div>
<div class="t" style="top:1805.00px;font-size:19px;color:#1f1f1f;letter-spacing:-0.253px;left:944.20px;">CE Unlimited (renewal)</div>
<div class="t" style="top:1805.00px;font-size:19px;color:#1f1f1f;letter-spacing:0.131px;left:1500.60px;">Medium</div>
<svg style="position:absolute;left:1603.5px;top:1804.2px" width="21" height="21" viewBox="0 0 21 21"><circle cx="10.5" cy="10.5" r="10.5" fill="#1a73e8"/><path d="M8.8 6.8 L12.5 10.5 L8.8 14.2" fill="none" stroke="#fff" stroke-width="1.6"/></svg>
<div style="position:absolute;left:812px;top:1832.5px;width:864px;height:1px;background:#dadada;"></div>
<div class="t" style="top:1841.00px;font-size:19px;color:#1f1f1f;letter-spacing:-0.099px;left:814.80px;">05/08/2024</div>
<div class="t" style="top:1841.00px;font-size:19px;color:#1f1f1f;letter-spacing:-0.202px;left:944.20px;">Learning Center</div>
<div class="t" style="top:1841.00px;font-size:19px;color:#1f1f1f;letter-spacing:0.131px;left:1500.60px;">Medium</div>
<svg style="position:absolute;left:1603.5px;top:1840.2px" width="21" height="21" viewBox="0 0 21 21"><circle cx="10.5" cy="10.5" r="10.5" fill="#1a73e8"/><path d="M8.8 6.8 L12.5 10.5 L8.8 14.2" fill="none" stroke="#fff" stroke-width="1.6"/></svg>
<svg style="position:absolute;left:1629px;top:1896px" width="54" height="39" viewBox="0 0 54 39"><g fill="#1b9bd8"><circle cx="15" cy="12" r="10"/><circle cx="28" cy="10" r="9"/><circle cx="40" cy="14.5" r="11"/><circle cx="11" cy="23" r="10.5"/><circle cx="21" cy="29" r="9"/><circle cx="32" cy="27" r="8.5"/><circle cx="42" cy="22" r="10"/><rect x="10" y="12" width="32" height="16"/></g></svg>
<div class="t" style="top:1911.00px;font-size:8.5px;color:#fff;letter-spacing:-0.084px;left:1055.50px;width:1200px;text-align:center;">salesforce</div>
<div style="position:absolute;left:328px;top:1987px;width:438px;height:204px;box-sizing:border-box;border:1px solid #dcdcdc;border-radius:6px;background:#fff;box-shadow:0 1px 4px rgba(0,0,0,0.10);"></div>
<div class="t" style="top:2003.00px;font-size:20px;color:#111;font-weight:bold;letter-spacing:-0.015px;left:343.30px;">ACCME Learner Records</div>
<div style="position:absolute;left:747.50px;top:2003.10px;width:5px;height:5px;border-radius:50%;background:#3370b9"></div>
<div style="position:absolute;left:747.50px;top:2009.30px;width:5px;height:5px;border-radius:50%;background:#3370b9"></div>
<div style="position:absolute;left:747.50px;top:2015.50px;width:5px;height:5px;border-radius:50%;background:#3370b9"></div>
<div style="position:absolute;left:344px;top:2041px;width:406px;height:27px;border-radius:13.5px;background:#e5effb;overflow:hidden;"></div>
<div style="position:absolute;left:344px;top:2041px;width:388.5px;height:27px;border-radius:13.5px 0 0 13.5px;background:#3572c0"></div>
<div class="t" style="top:2088.00px;font-size:16px;color:#5e5e5e;letter-spacing:0.290px;left:-51.40px;width:1200px;text-align:center;"><span style="font-weight:bold;color:#2163bd">1,871 records</span><span style=""> submitted successfully</span></div>
<div class="t" style="top:2117.00px;font-size:16px;color:#5e5e5e;letter-spacing:0.406px;left:-56.10px;width:1200px;text-align:center;"><span style="font-weight:bold;color:#d97a12">62 records</span><span style=""> rejected with error</span></div>
<svg style="position:absolute;left:727.60px;top:2152.50px" width="11.5" height="14.6" viewBox="0 0 12 15"><path d="M1 1 H11 V14 L6 10.5 L1 14 Z" fill="none" stroke="#3a6db5" stroke-width="2.3" stroke-linejoin="miter"/></svg>
<div class="t" style="top:1088.00px;font-size:16.5px;color:#2e2e2e;left:60.00px;">Dashboard Settings</div>
<div style="position:absolute;left:0px;top:1134px;width:292px;height:1px;background:#dcdcdc;"></div>
<div class="t" style="top:1156.00px;font-size:16px;color:#2e6db4;font-weight:bold;letter-spacing:-0.047px;left:18.70px;">Log Out</div>
<svg style="position:absolute;left:30px;top:165px" width="17" height="17" viewBox="0 0 17 17"><path d="M0.8 9 L8.5 1.6 L16.2 9" fill="none" stroke="#b9bdc2" stroke-width="2"/><rect x="12" y="1.2" width="2.2" height="4.5" fill="#b9bdc2"/><path d="M3 8.5 L8.5 3.5 L14 8.5 V16 H10 V11.5 H7 V16 H3 Z" fill="#b9bdc2"/></svg>
<svg style="position:absolute;left:30px;top:208.2px" width="17.6" height="17.6" viewBox="0 0 17.6 17.6"><path d="M8.80,17.60 L7.65,17.52 L6.52,17.30 L6.27,14.90 L5.50,14.52 L4.78,14.04 L4.13,13.47 L1.82,14.16 L1.18,13.20 L0.67,12.17 L0.30,11.08 L2.26,9.66 L2.20,8.80 L2.26,7.94 L2.42,7.09 L0.67,5.43 L1.18,4.40 L1.82,3.44 L2.58,2.58 L4.78,3.56 L5.50,3.08 L6.27,2.70 L7.09,2.42 L7.65,0.08 L8.80,0.00 L9.95,0.08 L11.08,0.30 L11.33,2.70 L12.10,3.08 L12.82,3.56 L13.47,4.13 L15.78,3.44 L16.42,4.40 L16.93,5.43 L17.30,6.52 L15.34,7.94 L15.40,8.80 L15.34,9.66 L15.18,10.51 L16.93,12.17 L16.42,13.20 L15.78,14.16 L15.02,15.02 L12.82,14.04 L12.10,14.52 L11.33,14.90 L10.51,15.18 L9.95,17.52 Z" fill="#b9bdc2" stroke="#b9bdc2" stroke-width="0.8" stroke-linejoin="round"/><circle cx="8.8" cy="8.8" r="2.9" fill="#fff"/></svg>
<svg style="position:absolute;left:31px;top:252.5px" width="16" height="16" viewBox="0 0 16 16"><path d="M15.6 0.4 C16 3 15.6 4.8 14.6 6.2 L8.6 11.8 L4.2 7.4 L9.8 1.4 C11.2 0.4 13 0 15.6 0.4 Z" fill="#b9bdc2"/><path d="M5.6 5.8 L1.6 6 L0 9.8 L4.4 9.8 Z" fill="#b9bdc2"/><path d="M10.2 10.4 L10 14.4 L6.2 16 L6.2 11.6 Z" fill="#b9bdc2"/><circle cx="11" cy="4.6" r="1.5" fill="#fff"/></svg>
<svg style="position:absolute;left:32px;top:296px" width="13" height="18" viewBox="0 0 13 18"><path d="M0 0.5 Q0 0 0.5 0 H12.5 Q13 0 13 0.5 V18 L6.5 14.2 L0 18 Z" fill="#b9bdc2"/></svg>
<svg style="position:absolute;left:30px;top:340px" width="17" height="18" viewBox="0 0 17 18"><circle cx="8.6" cy="5.6" r="5.5" fill="#b9bdc2"/><path d="M0 18 V15.5 Q0 12.2 4 12.2 H13 Q17 12.2 17 15.5 V18 Z" fill="#b9bdc2"/></svg>
<svg style="position:absolute;left:30px;top:384.8px" width="17" height="15" viewBox="0 0 17 15"><path d="M1 1 V14 H17" fill="none" stroke="#b9bdc2" stroke-width="1.9"/><path d="M3.4 8.2 L6.4 5 L9.6 8.8 L13 5.4" fill="none" stroke="#b9bdc2" stroke-width="2.1"/><path d="M11 2.2 H16 V7 Z" fill="#b9bdc2"/></svg>
<svg style="position:absolute;left:30px;top:429.5px" width="17" height="15" viewBox="0 0 17 15"><path d="M1 1 V14 H17" fill="none" stroke="#b9bdc2" stroke-width="1.9"/><path d="M3.4 8.2 L6.4 5 L9.6 8.8 L13 5.4" fill="none" stroke="#b9bdc2" stroke-width="2.1"/><path d="M11 2.2 H16 V7 Z" fill="#b9bdc2"/></svg>
<svg style="position:absolute;left:30px;top:472px" width="17" height="18" viewBox="0 0 17 18"><path d="M8.5 0.3 L16.8 9 L8.5 17.7 L0.2 9 Z" fill="#b9bdc2" stroke="#b9bdc2" stroke-width="0.6" stroke-linejoin="round"/><path d="M6 13 V9 H10" fill="none" stroke="#fff" stroke-width="2.2"/><path d="M9.6 6.3 L12.6 9 L9.6 11.7 Z" fill="#fff"/></svg>
<svg style="position:absolute;left:30px;top:1085.5px" width="17.6" height="17.6" viewBox="0 0 17.6 17.6"><path d="M8.80,17.60 L7.65,17.52 L6.52,17.30 L6.27,14.90 L5.50,14.52 L4.78,14.04 L4.13,13.47 L1.82,14.16 L1.18,13.20 L0.67,12.17 L0.30,11.08 L2.26,9.66 L2.20,8.80 L2.26,7.94 L2.42,7.09 L0.67,5.43 L1.18,4.40 L1.82,3.44 L2.58,2.58 L4.78,3.56 L5.50,3.08 L6.27,2.70 L7.09,2.42 L7.65,0.08 L8.80,0.00 L9.95,0.08 L11.08,0.30 L11.33,2.70 L12.10,3.08 L12.82,3.56 L13.47,4.13 L15.78,3.44 L16.42,4.40 L16.93,5.43 L17.30,6.52 L15.34,7.94 L15.40,8.80 L15.34,9.66 L15.18,10.51 L16.93,12.17 L16.42,13.20 L15.78,14.16 L15.02,15.02 L12.82,14.04 L12.10,14.52 L11.33,14.90 L10.51,15.18 L9.95,17.52 Z" fill="#b9bdc2" stroke="#b9bdc2" stroke-width="0.8" stroke-linejoin="round"/><circle cx="8.8" cy="8.8" r="2.9" fill="#fff"/></svg>
<svg style="position:absolute;left:1660px;top:16px" width="40" height="38" viewBox="0 0 40 38"><path d="M6.2 28.5 H27.8 L24.3 24.5 V15 Q24.3 7 17 7 Q9.6 7 9.6 15 V24.5 Z" fill="none" stroke="#3ec6ef" stroke-width="3" stroke-linejoin="round"/><path d="M13.9 31.2 A3.05 3.05 0 0 0 20 31.2 Z" fill="#3ec6ef"/></svg>
<div style="position:absolute;left:1674px;top:13px;width:22px;height:22px;border-radius:50%;background:#e35c29;border:2px solid #042a63"></div>
<div class="t" style="top:19.00px;font-size:15.5px;color:#fff;font-weight:bold;font-style:italic;left:1087.30px;width:1200px;text-align:center;">1</div>
<svg style="position:absolute;left:557px;top:125px" width="16" height="16" viewBox="0 0 16 16"><path d="M8 0.5 V15.5 M0.5 8 H15.5" stroke="#1c3f7a" stroke-width="2.2"/></svg>
<svg style="position:absolute;left:1702px;top:125.5px" width="14" height="14" viewBox="0 0 14 14"><rect x="0.7" y="2" width="12.6" height="11.3" rx="1" fill="none" stroke="#c6c6c6" stroke-width="1.2"/><path d="M0.7 5.3 H13.3 M4 0 V3 M10 0 V3" stroke="#c6c6c6" stroke-width="1.2"/></svg>
<svg style="position:absolute;left:767px;top:226.6px" width="16" height="16" viewBox="0 0 16 16"><circle cx="8" cy="8" r="7" fill="none" stroke="#d9822b" stroke-width="1.5"/><path d="M8 3.8 V9.2" stroke="#d9822b" stroke-width="1.6"/><circle cx="8" cy="11.6" r="0.95" fill="#d9822b"/></svg>
</div></body></html>
